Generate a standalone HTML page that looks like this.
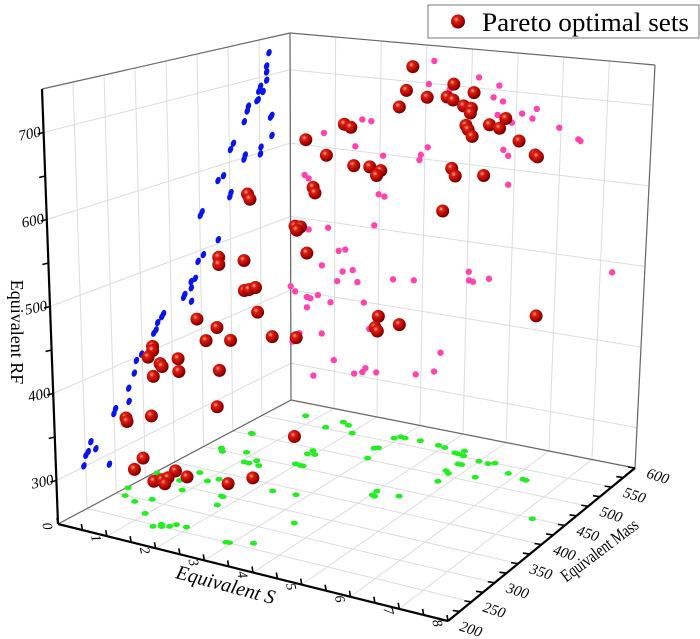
<!DOCTYPE html>
<html><head><meta charset="utf-8">
<style>
html,body{margin:0;padding:0;background:#fff;}
svg{display:block;font-family:"Liberation Serif",serif;}
</style></head>
<body>
<svg id="chart" width="700" height="639" viewBox="0 0 700 639" xmlns="http://www.w3.org/2000/svg">
<defs>
<radialGradient id="sph" cx="0.38" cy="0.35" r="0.7">
<stop offset="0" stop-color="#ffb0a0"/><stop offset="0.25" stop-color="#e02010"/><stop offset="0.75" stop-color="#a00000"/><stop offset="1" stop-color="#500000"/>
</radialGradient>
</defs>
<g id="grid"></g>
<g id="proj"></g>
<g id="axes"></g>
<g id="reds"></g>
<g>
<rect x="428" y="5" width="271" height="33" fill="#fff" stroke="#777" stroke-width="1"/>
<circle cx="458" cy="21.5" r="7" fill="url(#sph)"/>
<text x="482" y="31" font-size="26" textLength="207" lengthAdjust="spacingAndGlyphs" fill="#000">Pareto optimal sets</text>
</g>
<text transform="translate(11,332) rotate(90)" text-anchor="middle" font-size="18">Equivalent RF</text>
<text transform="translate(224,591) rotate(15)" text-anchor="middle" font-size="20" font-style="italic">Equivalent S</text>
<text transform="translate(603,555) rotate(-37)" text-anchor="middle" font-size="18" textLength="92" lengthAdjust="spacingAndGlyphs">Equivalent Mass</text>
</svg>
<script>
const blueMass=[566,562,562,562,552,549,556,546,548,532,530,525,568,570,570,507,502,552,551,526,524,490,481,502,500,454,451,480,455,446,441,434,434,423,421,434,387,384,377,374,370,349,340,336,326,326,303,300,260,255,268,251,247,290];
const blueRF=[730,713,705,694,688,682,680,670,671,666,660,647,643,645,618,623,616,607,598,603,598,585,581,560,555,548,544,505,493,487,467,465,457,452,449,440,439,436,431,423,420,401,396,382,367,351,350,345,325,315,314,312,301,288];
const pinkS=[3.17,4.16,3.06,4.61,3.52,3.99,4.49,4.70,2.97,1.60,1.80,0.75,5.13,5.45,5.36,4.59,4.91,5.96,6.39,6.44,1.45,2.07,3.06,2.91,2.88,4.74,4.85,0.32,0.41,4.87,1.98,2.11,1.89,0.85,0.41,1.09,1.24,0.71,1.18,1.41,1.06,1.52,2.33,2.80,4.04,4.05,4.14,4.50,7.27,0,0.1,0.37,0.45,0.62,0.91,1.67,0.37,0.71,0.2,0.04,1.80,3.44,0.99,0.52,1.46,1.65,1.72,1.97,2.88,3.30];
const pinkRF=[730,714,699,706,695,696,690,686,678,643,642,619,673,681,668,668,660,660,648,646,606,598,616,605,598,624,617,559,555,580,546,544,504,492,486,463,466,440,436,440,422,425,436,439,461,450,449,456,487,405,399,394,393,399,392,399,380,348,343,330,365,350,315,289,302,306,312,309,316,324];
const greenS=[0.74,1.42,1.57,1.75,2.04,0.37,0.4,0.33,0.44,0.85,1.88,1.88,2.02,1.09,1.19,1.25,1.42,1.96,2.08,2.14,2.84,2.9,3.0,2.9,2.98,3.09,3.43,3.87,4.04,4.36,4.46,4.48,4.59,4.7,4.78,5.0,5.22,5.33,4.66,4.77,4.79,5.33,5.82,6.22,6.3,4.01,4.03,4.1,4.5,7.29,2.79,2.32,1.66,1.7,1.83,0.69,1.04,1.17,0.9,0.6,0.05,0.03,0.2,0.5,0.7,0.97,1.42,1.49,1.55,1.66,1.72,1.93,3.47,2.89,2.95,3.33];
const greenMass=[570,553,573,568,552,504,503,455,448,458,494,484,486,435,435,444,434,456,455,455,528,531,503,560,566,565,566,564,562,555,554,563,552,532,532,547,546,550,512,507,485,511,534,528,527,435,425,423,435,449,388,385,348,347,326,389,374,384,341,361,366,318,299,291,305,270,246,255,250,255,262,262,326,250,251,262];
const redS=[3.45,3.32,3.77,4.34,4.2,4.33,4.78,3.17,4.56,4.73,4.71,5.48,4.62,4.67,4.76,5.13,5.35,1.98,2.12,1.14,5.78,6.14,6.19,1.59,2.19,2.54,2.78,2.69,4.33,4.41,5.03,1.3,1.34,4.15,0.9,1.02,0.94,1.16,2.76,3.23,2.69,2.74,6.27,0.92,
2.38,1.41,1.46,0.78,0.78,1.32,1.32,1.42,1.56,0.29,1.6,0.72,0.48,1.01,0.76,0.7,1.91,
1.13,1.14,0.6,0.6,0.5,0.75,0.79,0.6,0,0.02,0.54,0.34,0.15,
1.51,1.75,1.05,1.22,1.35,1.28,2.61,3.13];
const redMass=[540,540,540,540,540,540,540,540,540,540,540,540,540,540,540,540,540,540,540,540,540,540,540,540,540,540,540,540,540,540,540,540,540,540,540,540,540,540,540,540,540,540,540,540,
420,420,420,420,420,420,420,420,420,420,420,420,420,420,420,420,420,
320,320,320,320,320,320,320,320,320,320,320,320,320,
280,280,280,280,280,280,280,280];
const redRF=[737,706,700,720,703,700,712,684,694,692,686,684,670,665,657,674,671,654,651,628,658,643,641,611,602,603,600,593,614,605,610,567,560,559,513,513,508,480,413,407,398,394,446,367,
303,591,585,507,498,508,471,473,477,425,447,419,400,406,366,320,420,
417,402,426,421,412,407,404,390,333,329,342,289,273,
303,299,285,289,293,285,302,315];
const sTicks=[0,1,2,3,4,5,6,7,8];
const massTicks=[200,250,300,350,400,450,500,550,600];
const rfTicks=[300,400,500,600,700];

const NS='http://www.w3.org/2000/svg';
const A=[58,524],B=[448,621],C=[635,468],D=[291,400];
const A2=[42,89],B2=[450,140],C2=[655,65],D2=[290,33];
function bil(P0,P1,P2,P3,u,v,i){return P0[i]+u*(P1[i]-P0[i])+v*(P3[i]-P0[i])+u*v*(P2[i]-P3[i]-P1[i]+P0[i]);}
function P(s,m,z){
  const u=s/8,v=(m-200)/400,w=(z-250)/500;
  const bx=bil(A,B,C,D,u,v,0),by=bil(A,B,C,D,u,v,1);
  const tx=bil(A2,B2,C2,D2,u,v,0),ty=bil(A2,B2,C2,D2,u,v,1);
  return [bx+(tx-bx)*w,by+(ty-by)*w];
}
function mk(tag,attrs,parent){const e=document.createElementNS(NS,tag);for(const k in attrs)e.setAttribute(k,attrs[k]);parent.appendChild(e);return e;}
function line(p,q,st,sw,par){return mk('line',{x1:p[0],y1:p[1],x2:q[0],y2:q[1],stroke:st,'stroke-width':sw},par);}
const grid=document.getElementById('grid'),proj=document.getElementById('proj'),axes=document.getElementById('axes'),reds=document.getElementById('reds');
const gc='#dcdcdc';
sTicks.forEach(s=>{const l=line(P(s,200,250),P(s,600,250),gc,1,grid);});
massTicks.forEach(m=>{const l=line(P(0,m,250),P(8,m,250),gc,1,grid);});
massTicks.forEach(m=>{const l=line(P(0,m,250),P(0,m,750),gc,1,grid);});
rfTicks.forEach(z=>{const l=line(P(0,200,z),P(0,600,z),gc,1,grid);});
sTicks.forEach(s=>{const l=line(P(s,600,250),P(s,600,750),gc,1,grid);});
rfTicks.forEach(z=>{const l=line(P(0,600,z),P(8,600,z),gc,1,grid);});
[[P(0,200,750),P(0,600,750)],[P(0,600,750),P(8,600,750)],[P(0,600,250),P(0,600,750)],[P(0,200,250),P(0,600,250)],[P(0,600,250),P(8,600,250)],[P(8,600,250),P(8,600,750)]].forEach(e=>{
  const l=line(e[0],e[1],'#666',1.2,grid);});
blueMass.forEach((m,i)=>{const p=P(0,m,blueRF[i]);const e=mk('ellipse',{cx:p[0],cy:p[1],rx:2.6,ry:3.8,fill:'#0a14f0',transform:`rotate(20 ${p[0]} ${p[1]})`},proj);
  
  });
pinkS.forEach((s,i)=>{const p=P(s,600,pinkRF[i]);const e=mk('circle',{cx:p[0],cy:p[1],r:3.2,fill:'#ff44b0'},proj);
  
  });
greenS.forEach((s,i)=>{const p=P(s,greenMass[i],250);const e=mk('ellipse',{cx:p[0],cy:p[1],rx:3.6,ry:2.4,fill:'#22ee22'},proj);
  
  });
let l=line(P(0,200,250),P(0,200,750),'#000',2.2,axes);
l=line(P(0,200,250),P(8,200,250),'#000',2.2,axes);
l=line(P(8,200,250),P(8,600,250),'#000',2.2,axes);
for(let z=300;z<=700;z+=50){const p=P(0,200,z);const t=line(p,[p[0]-6,p[1]+1.5],'#000',1.6,axes);}
rfTicks.forEach(z=>{const p=P(0,200,z);const t=mk('text',{x:p[0]-3,y:p[1]+6,'text-anchor':'end','font-size':15,'font-style':'italic',transform:`rotate(-12 ${p[0]-14} ${p[1]})`},axes);t.textContent=z;
  
  });
for(let s=0;s<=8;s+=0.5){const p=P(s,200,250);const t=line(p,[p[0]-1,p[1]-6],'#000',1.6,axes);}
sTicks.forEach(s=>{const p=P(s,200,250);const x=p[0]-15,y=p[1]+3;const t=mk('text',{x:x,y:y,'text-anchor':'middle','font-size':14,'font-style':'italic',transform:`rotate(78 ${x} ${y})`},axes);t.textContent=s;
  
  });
for(let m=200;m<=600;m+=25){const p=P(8,m,250);const t=line(p,[p[0]-7,p[1]-1],'#000',1.6,axes);}
massTicks.forEach(m=>{const p=P(8,m,250);const x=p[0]+23,y=p[1]+13;const t=mk('text',{x:x,y:y,'text-anchor':'middle','font-size':15,'font-style':'italic',transform:`rotate(18 ${x} ${y-5})`},axes);t.textContent=m;
  
  });
redS.forEach((s,i)=>{const p=P(s,redMass[i],redRF[i]);const c=mk('circle',{cx:p[0],cy:p[1],r:6.5,fill:'url(#sph)'},reds);
  
  });
</script>
</body></html>
